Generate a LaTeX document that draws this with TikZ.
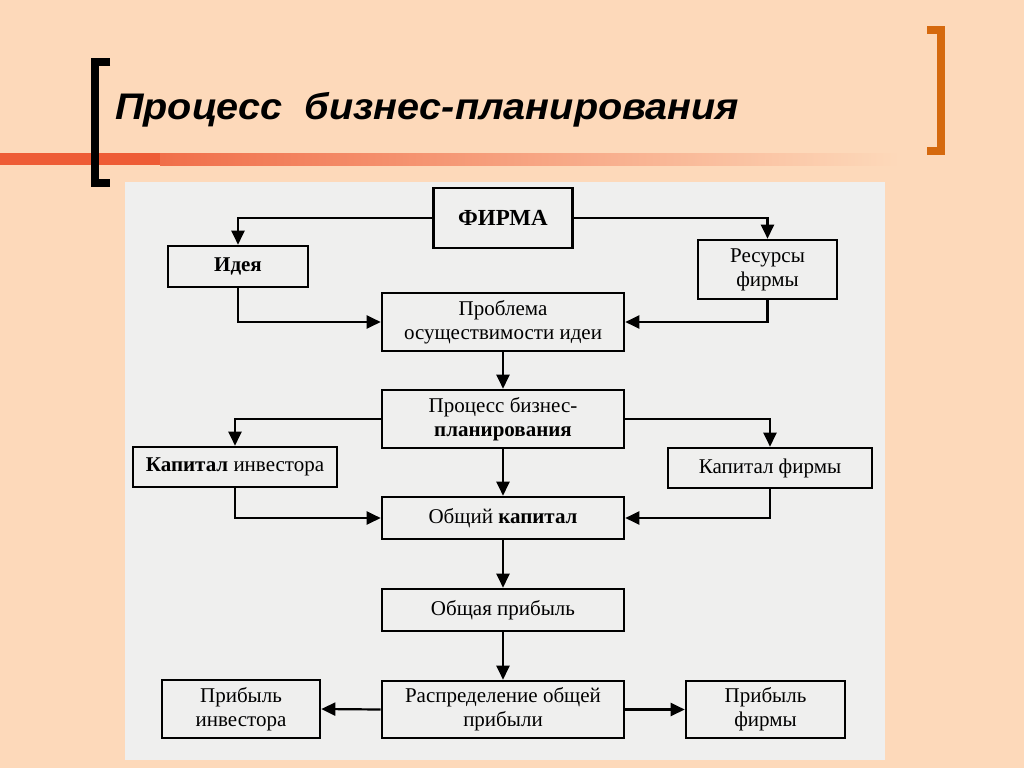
\documentclass[tikz,border=0pt]{standalone}
\usepackage{fontspec}
\usepackage{graphicx}
\setmainfont{Liberation Serif}
\newfontfamily\titlefont{Liberation Sans}
\usetikzlibrary{arrows.meta}

\definecolor{slidebg}{HTML}{FDD9BA}
\definecolor{panelbg}{HTML}{EFEFEE}
\definecolor{bracketorange}{HTML}{D5690E}
\definecolor{barred}{HTML}{EE5C36}

\tikzset{x=1pt, y=-1pt, node font=\fontsize{21}{24}\selectfont,
  block/.style={draw, line width=2.6pt, inner sep=0pt, align=center},
  conn/.style={line width=2.2pt, -{Triangle[length=14pt,width=13pt]}}}

\begin{document}
\begin{tikzpicture}
    \useasboundingbox (0,0) rectangle (1024,768);
    \fill [slidebg] (0,0) rectangle (1024,768);
    % title bar
    \fill [barred] (0,153) rectangle (160,165);
    \shade [left color=barred!85!slidebg, right color=slidebg] (160,153) rectangle (900,165);
    \draw [line width=8pt] (110,62) -- (95,62) -- (95,183) -- (110,183);
    \draw [bracketorange, line width=8pt] (927,30) -- (941,30) -- (941,151) -- (927,151);
    \node [anchor=base west, inner sep=0pt, font=\titlefont\fontsize{37}{44}\selectfont\bfseries\itshape]
      (title) at (115,119.5) {\scalebox{1.07}[1]{Процесс\ \ бизнес-планирования}};
    \fill [panelbg] (125,182) rectangle (885,760);

    % blocks
    \node [block, minimum width=139, minimum height=60] (firm) at (503,218) {\fontsize{23}{26}\selectfont\textbf{ФИРМА}};
    \node [block, minimum width=140, minimum height=41] (idea) at (238,266.5) {\textbf{Идея}};
    \node [block, minimum width=139, minimum height=59] (res) at (767.5,269.5) {Ресурсы\\фирмы};
    \node [block, minimum width=242, minimum height=58] (problem) at (503,322) {Проблема\\осуществимости идеи};
    \node [block, minimum width=242, minimum height=58] (plan) at (503,419) {Процесс бизнес-\\\textbf{планирования}};
    \node [block, minimum width=204, minimum height=40] (capinv) at (235,467) {\textbf{Капитал} инвестора};
    \node [block, minimum width=204, minimum height=40] (capfirm) at (770,468) {Капитал фирмы};
    \node [block, minimum width=242, minimum height=42] (total) at (503,518) {Общий \textbf{капитал}};
    \node [block, minimum width=242, minimum height=42] (profit) at (503,610) {Общая прибыль};
    \node [block, minimum width=242, minimum height=57] (dist) at (503,709.5) {Распределение общей\\прибыли};
    \node [block, minimum width=158, minimum height=58] (profinv) at (241,709) {Прибыль\\инвестора};
    \node [block, minimum width=159, minimum height=57] (proffirm) at (765.5,709.5) {Прибыль\\фирмы};

    % connectors
    \draw [conn] (firm.west) -| (idea.north);
    \draw [conn] (firm.east) -| (res.north);
    \draw [conn] (idea.south) |- (problem.west);
    \draw [conn] (res.south) |- (problem.east);
    \draw [conn] (problem.south) -- (plan.north);
    \draw [conn] (plan.west) -| (capinv.north);
    \draw [conn] (plan.east) -| (capfirm.north);
    \draw [conn] (capinv.south) |- (total.west);
    \draw [conn] (capfirm.south) |- (total.east);
    \draw [conn] (plan.south) -- (total.north);
    \draw [conn] (total.south) -- (profit.north);
    \draw [conn] (profit.south) -- (dist.north);
    \draw [conn] (dist.west) -- (profinv.east);
    \draw [conn] (dist.east) -- (proffirm.west);
\end{tikzpicture}
\end{document}
